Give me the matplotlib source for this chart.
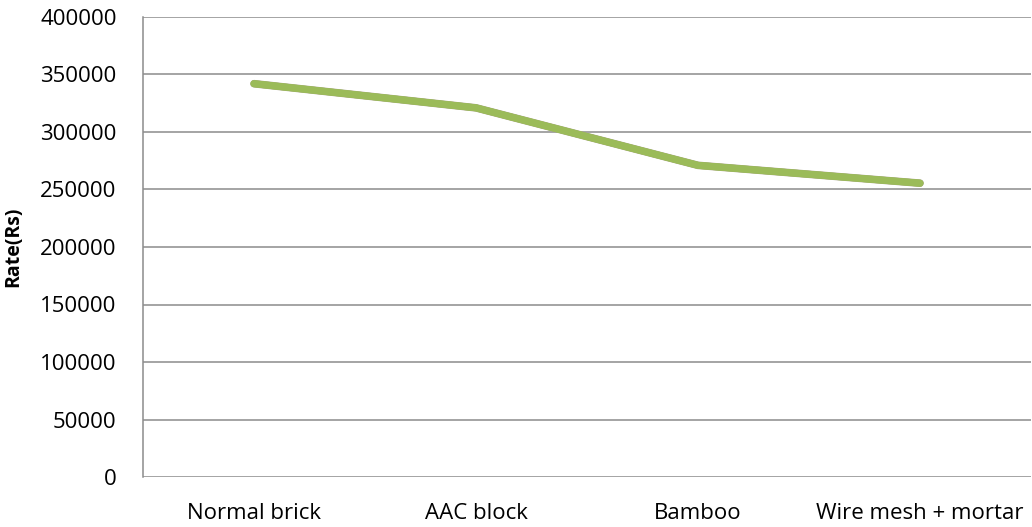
import matplotlib
matplotlib.use("Agg")
import matplotlib.pyplot as plt
import matplotlib.patheffects as pe

materials = ["Normal brick", "AAC block", "Bamboo", "Wire mesh + mortar"]
rate = [342000, 321000, 271000, 255500]
y_ticks = list(range(0, 400001, 50000))

plt.rcParams["font.family"] = ["Open Sans", "DejaVu Sans"]

fig = plt.figure(figsize=(10.32, 5.27), dpi=100)
ax = fig.add_axes([143 / 1032, 1 - 477 / 527, 888 / 1032, 460 / 527])

x = range(len(materials))
ax.plot(x, rate, color="#9BBB59", lw=5.0, solid_capstyle="round",
        solid_joinstyle="round",
        path_effects=[pe.withStroke(linewidth=5.5, foreground="#a8a488"),
                      pe.Normal()],
        zorder=3)

ax.set_xlim(-0.5, len(materials) - 0.5)
ax.set_ylim(0, 400000)
ax.set_yticks(y_ticks)
ax.set_yticklabels([str(v) for v in y_ticks], fontsize=16)
ax.set_xticks(list(x))
ax.set_xticklabels(materials, fontsize=16)
ax.tick_params(axis="both", length=0, colors="black")
ax.tick_params(axis="y", pad=19)
ax.tick_params(axis="x", pad=19)

ax.grid(axis="y", color="#8c8c8c", lw=1.1)
ax.set_axisbelow(True)
for side in ["top", "right", "bottom"]:
    ax.spines[side].set_visible(False)
ax.spines["left"].set_color("#8c8c8c")
ax.spines["left"].set_linewidth(1.1)

ax.set_ylabel("Rate(Rs)", fontsize=14, fontweight="bold", labelpad=12)

fig.savefig("out.png", dpi=100)
